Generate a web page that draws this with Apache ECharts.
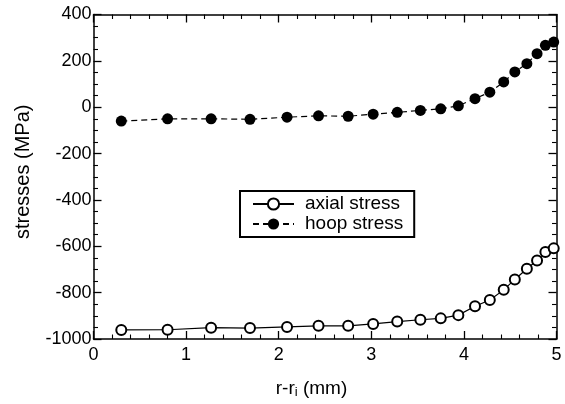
<!DOCTYPE html>
<html><head><meta charset="utf-8">
<script src="https://cdn.jsdelivr.net/npm/echarts@6/dist/echarts.min.js"></script>
<style>html,body{margin:0;background:#fff}#c{width:565px;height:404px}</style>
</head><body><div id="c"></div>
<script>
// radial position measured from the inner radius (mm)
const radialPos = [0.30, 0.80, 1.27, 1.69, 2.09, 2.43, 2.75, 3.02, 3.28, 3.53, 3.75, 3.94, 4.12, 4.28, 4.43, 4.55, 4.68, 4.79, 4.88, 4.97];
// stresses (MPa)
const axialStress = [-961, -960, -951, -953, -948, -943, -943, -935, -925, -917, -911, -897, -859, -832, -788, -743, -697, -661, -625, -609];
const hoopStress = [-60, -50, -50, -52, -43, -37, -39, -30, -22, -14, -7, 6, 37, 65, 109, 152, 188, 231, 267, 281];
const seriesNames = ['axial stress', 'hoop stress'];

const FONT = '"Liberation Sans", Arial, Helvetica, sans-serif';
const pairs = (xs, ys) => xs.map((x, i) => [x, ys[i]]);
const plain = v => String(v);

const frame = {
  axisLine: { show: true, onZero: false, lineStyle: { color: '#000', width: 1.5 } },
  axisTick: { show: true, inside: true, length: 8, lineStyle: { color: '#000', width: 1.3 } },
  splitLine: { show: false }
};
const minor = n => ({ show: true, splitNumber: n, length: 4.5, lineStyle: { color: '#000', width: 1.1 } });

const chart = echarts.init(document.getElementById('c'), null, { renderer: 'canvas' });
chart.setOption({
  animation: false,
  backgroundColor: '#fff',
  grid: { left: 93.5, right: 8.5, top: 14.5, bottom: 64.5, containLabel: false },
  xAxis: [
    Object.assign({
      type: 'value', min: 0, max: 5, interval: 1, position: 'bottom',
      name: '{a|r-r}{s|i}{a| (mm)}', nameLocation: 'middle', nameGap: 39,
      nameTextStyle: {
        padding: [0, 27, 0, 0],
        rich: {
          a: { fontFamily: FONT, fontSize: 19, color: '#000' },
          s: { fontFamily: FONT, fontSize: 13, color: '#000', padding: [8, 0, 0, 0] }
        }
      },
      axisLabel: { color: '#000', fontFamily: FONT, fontSize: 18, margin: 7, formatter: plain },
      minorTick: minor(5)
    }, frame),
    Object.assign({
      type: 'value', min: 0, max: 5, interval: 1, position: 'top',
      axisLabel: { show: false },
      minorTick: minor(5)
    }, frame)
  ],
  yAxis: [
    Object.assign({
      type: 'value', min: -1000, max: 400, interval: 200, position: 'left',
      name: 'stresses (MPa)', nameLocation: 'middle', nameGap: 60,
      nameTextStyle: { fontFamily: FONT, fontSize: 20, color: '#000', padding: [0, 0, 0, 10] },
      axisLabel: { color: '#000', fontFamily: FONT, fontSize: 18, margin: 2, formatter: plain },
      minorTick: minor(4)
    }, frame),
    Object.assign({
      type: 'value', min: -1000, max: 400, interval: 200, position: 'right',
      axisLabel: { show: false },
      minorTick: minor(4)
    }, frame)
  ],
  legend: {
    orient: 'vertical', left: 240, top: 191,
    data: seriesNames,
    itemWidth: 41, itemHeight: 14, itemGap: 0,
    padding: [3, 11, 3, 12],
    borderColor: '#000', borderWidth: 2,
    textStyle: { fontFamily: FONT, fontSize: 19, color: '#000', lineHeight: 20, padding: [0, 0, 0, 6] }
  },
  series: [
    {
      name: seriesNames[0], type: 'line', xAxisIndex: 0, yAxisIndex: 0,
      data: pairs(radialPos, axialStress),
      symbol: 'emptyCircle', symbolSize: 10,
      itemStyle: { color: '#000', borderColor: '#000', borderWidth: 1.3 },
      lineStyle: { color: '#000', width: 1.2, type: 'solid' },
      clip: false
    },
    {
      name: seriesNames[1], type: 'line', xAxisIndex: 0, yAxisIndex: 0,
      data: pairs(radialPos, hoopStress),
      symbol: 'circle', symbolSize: 11,
      itemStyle: { color: '#000' },
      lineStyle: { color: '#000', width: 1.2, type: [6, 4] },
      clip: false
    }
  ]
});
</script>
</body></html>
